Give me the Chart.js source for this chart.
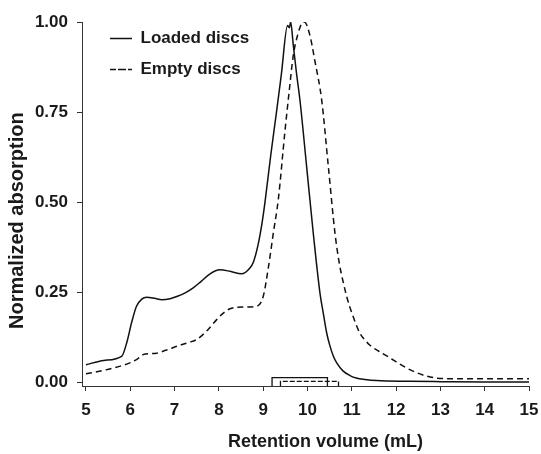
<!DOCTYPE html>
<html>
<head>
<meta charset="utf-8">
<script src="https://cdn.jsdelivr.net/npm/chart.js@4.4.1/dist/chart.umd.min.js"></script>
<style>
  html, body { margin: 0; padding: 0; background: #fff; }
  #wrap { width: 541px; height: 454px; }
</style>
</head>
<body>
<div id="wrap"><canvas id="chart"></canvas></div>
<script>
'use strict';

// retention volume (mL) / normalized absorption
var loadedX = [5.0, 5.4, 5.81, 5.92, 6.03, 6.14, 6.26, 6.37, 6.55, 6.71, 6.9, 7.05, 7.25, 7.42, 7.6, 7.8,
  8.02, 8.25, 8.51, 8.7, 8.78, 8.88, 8.97, 9.04, 9.17, 9.3, 9.41, 9.55, 9.59, 9.62, 9.68, 9.75, 9.83, 9.98,
  10.13, 10.28, 10.36, 10.43, 10.5, 10.58, 10.66, 10.8, 10.96, 11.1, 11.3, 11.56, 12.3, 13, 14, 15];
var loadedY = [0.050, 0.062, 0.074, 0.111, 0.167, 0.212, 0.232, 0.237, 0.234, 0.230, 0.233, 0.239, 0.250, 0.263, 0.281, 0.302,
  0.313, 0.309, 0.302, 0.318, 0.335, 0.380, 0.440, 0.500, 0.630, 0.750, 0.855, 0.990, 0.984, 1.000, 0.935, 0.860, 0.783, 0.600,
  0.415, 0.250, 0.190, 0.140, 0.105, 0.075, 0.055, 0.033, 0.020, 0.013, 0.009, 0.006, 0.004, 0.003, 0.002, 0.002];

var emptyX = [5.0, 5.3, 5.62, 5.99, 6.15, 6.29, 6.45, 6.59, 6.8, 7.05, 7.3, 7.5, 7.72, 7.95, 8.1, 8.25, 8.55, 8.85,
  9.0, 9.12, 9.23, 9.34, 9.49, 9.58, 9.68, 9.78, 9.87, 9.93, 10.05, 10.17, 10.32, 10.47, 10.62, 10.72, 10.81, 10.9,
  11.0, 11.18, 11.3, 11.41, 11.6, 11.78, 11.95, 12.08, 12.25, 12.46, 12.7, 12.91, 13.3, 14, 15];
var emptyY = [0.025, 0.032, 0.041, 0.055, 0.065, 0.078, 0.081, 0.082, 0.090, 0.101, 0.111, 0.120, 0.143, 0.175, 0.193, 0.205, 0.210, 0.212,
  0.239, 0.322, 0.416, 0.507, 0.696, 0.800, 0.908, 0.965, 0.996, 1.000, 0.965, 0.890, 0.784, 0.600, 0.415, 0.330, 0.277, 0.232,
  0.194, 0.138, 0.118, 0.104, 0.088, 0.075, 0.062, 0.052, 0.040, 0.028, 0.018, 0.013, 0.011, 0.011, 0.011];

// collected fractions (boxes on the baseline)
var yFloor = -0.009;
var fracLoadedX = [9.2, 9.2, 10.45, 10.45];
var fracLoadedY = [yFloor, 0.014, 0.014, yFloor];
var fracEmptyX = [9.39, 9.39, 10.7, 10.7];
var fracEmptyY = [yFloor, 0.004, 0.004, yFloor];

var seriesNames = ['Loaded discs', 'Empty discs'];
var xTicks = [5, 6, 7, 8, 9, 10, 11, 12, 13, 14, 15];
var yTicks = [0, 0.25, 0.5, 0.75, 1];

function toPoints(xs, ys) {
  var pts = [];
  for (var i = 0; i < xs.length; i++) {
    pts.push({x: xs[i], y: ys[i]});
  }
  return pts;
}

// legend sits inside the plot, a bit in from the y axis
var legendShift = {
  id: 'legendShift',
  afterLayout: function(chart) {
    var lg = chart.legend;
    var ca = chart.chartArea;
    lg.left += 14; lg.right += 14;
    lg.top = ca.top - 6;
    lg.bottom = lg.top + lg.height;
  }
};

Chart.defaults.font.family = '"Liberation Sans", Arial, sans-serif';
Chart.defaults.font.weight = 'bold';
Chart.defaults.font.size = 17;
Chart.defaults.color = '#1a1a1a';

var ink = '#111';
var axisInk = '#333';

var ctx = document.getElementById('chart').getContext('2d');
var chromChart = new Chart(ctx, {
  type: 'line',
  data: {
    datasets: [
      {label: seriesNames[0], data: toPoints(loadedX, loadedY), borderColor: ink, backgroundColor: 'transparent',
        borderWidth: 1.5, pointRadius: 0, cubicInterpolationMode: 'monotone'},
      {label: seriesNames[1], data: toPoints(emptyX, emptyY), borderColor: ink, backgroundColor: 'transparent',
        borderWidth: 1.5, borderDash: [6, 4], pointRadius: 0, cubicInterpolationMode: 'monotone'},
      {label: 'fracLoaded', data: toPoints(fracLoadedX, fracLoadedY), borderColor: ink, backgroundColor: 'transparent',
        borderWidth: 1.3, pointRadius: 0, tension: 0},
      {label: 'fracEmpty', data: toPoints(fracEmptyX, fracEmptyY), borderColor: ink, backgroundColor: 'transparent',
        borderWidth: 1.3, borderDash: [5, 2], pointRadius: 0, tension: 0}
    ]
  },
  options: {
    responsive: true,
    maintainAspectRatio: false,
    animation: false,
    layout: {padding: {top: 22, right: 12, left: 0, bottom: 0}},
    plugins: {
      legend: {
        position: 'chartArea',
        align: 'start',
        labels: {
          boxWidth: 22,
          boxHeight: 0,
          padding: 14,
          color: '#1a1a1a',
          font: {size: 17, weight: 'bold'},
          filter: function(item) { return item.datasetIndex < 2; }
        }
      },
      tooltip: {enabled: false}
    },
    scales: {
      x: {
        type: 'linear',
        min: 4.91,
        max: 15,
        afterBuildTicks: function(scale) {
          scale.ticks = xTicks.map(function(v) { return {value: v}; });
        },
        afterFit: function(scale) {
          scale.height = 68;
          scale.paddingRight = 0;
        },
        grid: {drawOnChartArea: false, drawTicks: true, tickLength: 5, color: axisInk},
        border: {display: true, color: axisInk, width: 1},
        ticks: {padding: 9, maxRotation: 0, autoSkip: false},
        title: {display: true, text: '        Retention volume (mL)', font: {size: 18, weight: 'bold'}, padding: {top: 0, bottom: 1}}
      },
      y: {
        type: 'linear',
        min: yFloor,
        max: 1,
        afterBuildTicks: function(scale) {
          scale.ticks = yTicks.map(function(v) { return {value: v}; });
        },
        afterFit: function(scale) { scale.width = 82; },
        grid: {drawOnChartArea: false, drawTicks: true, tickLength: 5, color: axisInk},
        border: {display: true, color: axisInk, width: 1},
        ticks: {
          padding: 9,
          callback: function(v) { return Number(v).toFixed(2); }
        },
        title: {display: true, text: 'Normalized absorption      ', font: {size: 20, weight: 'bold'}, padding: {top: 5, bottom: 0}}
      }
    }
  },
  plugins: [legendShift]
});
</script>
</body>
</html>
